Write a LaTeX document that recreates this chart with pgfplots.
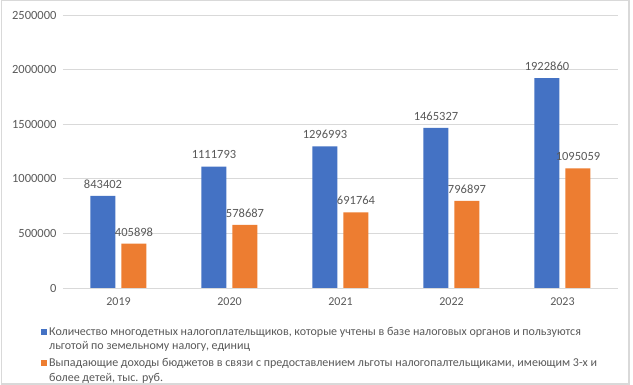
\documentclass[border=0pt]{standalone}
\usepackage{fontspec}
\setmainfont{Carlito}
\usepackage{pgfplots}
\pgfplotsset{compat=1.18}
\definecolor{cblue}{HTML}{4472C4}
\definecolor{corange}{HTML}{ED7D31}
\definecolor{ctext}{HTML}{595959}
\definecolor{cgrid}{HTML}{D9D9D9}
\begin{document}
\begin{tikzpicture}[x=1pt,y=1pt]
\clip (0,0) rectangle (633,385);
\fill[white] (0,0) rectangle (633,385);
\draw[cgrid, line width=1.2pt] (1.5,1) rectangle (629,384.4);
\begin{axis}[
  at={(63pt,97pt)}, anchor=south west,
  scale only axis, width=555pt, height=273pt,
  xmin=-0.5, xmax=4.5, ymin=0, ymax=2500000,
  ybar, bar width=25pt,
  xtick={0,1,2,3,4}, xticklabels={2019,2020,2021,2022,2023},
  ytick={0,500000,1000000,1500000,2000000,2500000},
  scaled y ticks=false,
  /pgf/number format/fixed, /pgf/number format/1000 sep={},
  /pgf/number format/assume math mode=true,
  ymajorgrids, grid style={cgrid, line width=0.9pt},
  axis line style={draw=none},
  major tick length=0pt, tick style={draw=none},
  xticklabel style={font=\fontsize{12}{14}\selectfont, text=ctext, yshift=-6pt},
  yticklabel style={font=\fontsize{12.5}{14}\selectfont, text=ctext, xshift=-3pt},
  nodes near coords, point meta=explicit symbolic,
  nodes near coords style={font=\fontsize{12.5}{14}\selectfont, text=ctext, yshift=4pt},
  legend image code/.code={\fill[#1] (0pt,4.3pt) rectangle (6pt,10.3pt);},
  legend cell align=left,
  legend style={at={(0,0)}, anchor=north west, xshift=-25pt, yshift=-35pt,
    draw=none, fill=none, font=\fontsize{12}{14.3}\selectfont, text=ctext,
    cells={align=left}, row sep=3.5pt},
]
\addplot[fill=cblue, draw=none, bar shift=-15.5pt] coordinates {
  (0,843402) [843402]
  (1,1111793) [1111793]
  (2,1296993) [1296993]
  (3,1465327) [1465327]
  (4,1922860) [1922860]
};
\addlegendentry{Количество многодетных налогоплательщиков, которые учтены в базе налоговых органов и пользуются\\льготой по земельному налогу, единиц}
\addplot[fill=corange, draw=none, bar shift=15.5pt] coordinates {
  (0,405898) [405898]
  (1,578687) [578687]
  (2,691764) [691764]
  (3,796897) [796897]
  (4,1095059) [1095059]
};
\addlegendentry{Выпадающие доходы бюджетов в связи с предоставлением льготы налогопалтельщиками, имеющим 3-х и\\более детей, тыс. руб.}
\end{axis}
\end{tikzpicture}
\end{document}
